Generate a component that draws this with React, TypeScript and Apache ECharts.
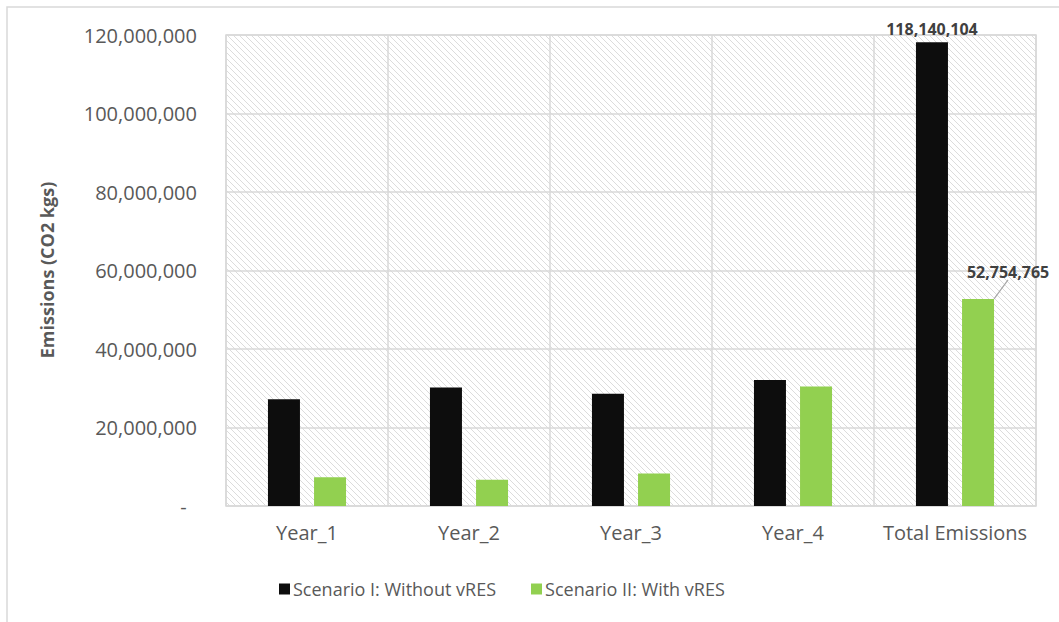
import React, { useEffect, useRef } from "react";
import * as echarts from "echarts";

const categories = ["Year_1", "Year_2", "Year_3", "Year_4", "Total Emissions"];
const scenarioI = [27200000, 30200000, 28600000, 32100000, 118140104];
const scenarioII = [7300000, 6700000, 8300000, 30450000, 52754765];
const seriesNames = ["Scenario I: Without vRES", "Scenario II: With vRES"];
const yTicks = { min: 0, max: 120000000, interval: 20000000 };

const FONT = "'Open Sans', 'Noto Sans', sans-serif";
const TXT = "#595959";

function makeHatch(): HTMLCanvasElement {
  const n = 6;
  const c = document.createElement("canvas");
  c.width = n;
  c.height = n;
  const ctx = c.getContext("2d")!;
  ctx.fillStyle = "#ffffff";
  ctx.fillRect(0, 0, n, n);
  ctx.strokeStyle = "#dcdcdc";
  ctx.lineWidth = 1;
  ctx.beginPath();
  ctx.moveTo(-1, -1);
  ctx.lineTo(n + 1, n + 1);
  ctx.moveTo(-1, n - 1);
  ctx.lineTo(1, n + 1);
  ctx.moveTo(n - 1, -1);
  ctx.lineTo(n + 1, 1);
  ctx.stroke();
  return c;
}

export default function App() {
  const ref = useRef<HTMLDivElement>(null);
  useEffect(() => {
    if (!ref.current) return;
    const chart = echarts.init(ref.current, undefined, { renderer: "svg" });
    const hatch = makeHatch();
    const last = categories.length - 1;
    const labelBase = {
      show: true,
      position: "top" as const,
      distance: 5,
      fontFamily: FONT,
      fontWeight: "bold" as const,
      fontSize: 16,
      color: "#404040",
      formatter: (p: any) => Number(p.value).toLocaleString("en-US"),
    };
    chart.setOption({
      animation: false,
      backgroundColor: "#ffffff",
      textStyle: { fontFamily: FONT, color: TXT },
      graphic: [
        {
          type: "rect",
          shape: { x: 7, y: 7, width: 1200, height: 800 },
          style: { fill: "none", stroke: "#d9d9d9", lineWidth: 1.5 },
          silent: true,
          z: -10,
        },
        {
          type: "text",
          x: 47,
          y: 270,
          rotation: Math.PI / 2,
          style: {
            text: "Emissions (CO2 kgs)",
            fontFamily: FONT,
            fontWeight: "bold",
            fontSize: 18,
            fill: TXT,
            align: "center",
            verticalAlign: "middle",
          },
        },
      ],
      grid: {
        left: 226,
        right: 23,
        top: 35,
        bottom: 116,
        show: true,
        backgroundColor: {
          image: hatch,
          repeat: "repeat",
          imageWidth: 6,
          imageHeight: 6,
        } as any,
        borderColor: "#d9d9d9",
        borderWidth: 1.5,
      },
      legend: {
        left: 279,
        top: 580,
        padding: 0,
        itemWidth: 11,
        itemHeight: 11,
        itemGap: 35,
        icon: "rect",
        textStyle: { fontFamily: FONT, fontSize: 18, color: TXT, padding: [0, 0, 0, -2] },
        data: seriesNames,
      },
      xAxis: {
        type: "category",
        data: categories,
        axisLine: { show: false },
        axisTick: { show: false },
        splitLine: { show: true, interval: 0, lineStyle: { color: "#d9d9d9", width: 1.5 } },
        axisLabel: { interval: 0, fontFamily: FONT, fontSize: 20, color: TXT, margin: 16 },
      },
      yAxis: {
        type: "value",
        min: yTicks.min,
        max: yTicks.max,
        interval: yTicks.interval,
        axisLine: { show: false },
        axisTick: { show: false },
        splitLine: { show: true, lineStyle: { color: "#d9d9d9", width: 1.5 } },
        axisLabel: {
          fontFamily: FONT,
          fontSize: 20,
          color: TXT,
          margin: 29,
          formatter: (v: number) => (v === 0 ? "-  " : v.toLocaleString("en-US")),
        },
      },
      series: [
        {
          name: seriesNames[0],
          type: "bar",
          barWidth: 32,
          barGap: "44%",
          itemStyle: { color: "#0d0d0d" },
          data: scenarioI.map((v, i) =>
            i === last ? { value: v, label: { ...labelBase } } : v
          ),
        },
        {
          name: seriesNames[1],
          type: "bar",
          barWidth: 32,
          barGap: "44%",
          itemStyle: { color: "#92d050" },
          labelLayout: (p: any) => (p.dataIndex === last ? { dx: 30, dy: -14 } : {}),
          data: scenarioII.map((v, i) =>
            i === last
              ? {
                  value: v,
                  label: { ...labelBase },
                  labelLine: { show: true, lineStyle: { color: "#a6a6a6", width: 1.2 } },
                }
              : v
          ),
        },
      ],
    });
    return () => chart.dispose();
  }, []);
  return (
    <div style={{ position: "fixed", left: 0, top: 0, width: 1059, height: 622 }}>
      <div ref={ref} style={{ width: 1059, height: 622 }} />
    </div>
  );
}
